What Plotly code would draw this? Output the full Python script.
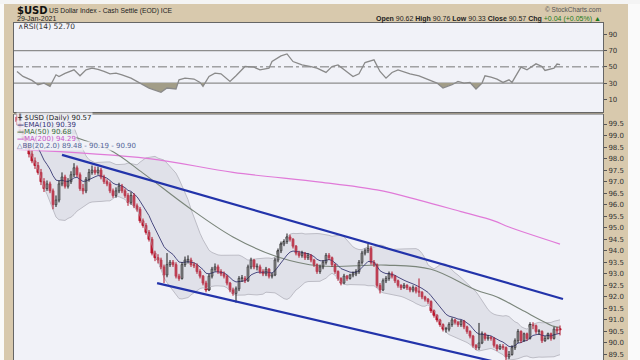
import plotly.graph_objects as go
import pandas as pd

# ---------------- data ----------------
closes = [
    99.60, 99.20, 98.90, 98.50, 98.20, 97.90, 97.70, 97.40, 97.00, 96.70,
    96.90, 96.60, 96.00, 96.20, 96.90, 97.20, 96.80, 97.00, 97.30, 97.60,
    97.30, 96.70, 96.60, 97.10, 97.40, 97.50, 97.40, 97.50, 97.20, 97.00,
    96.90, 96.60, 96.40, 96.60, 96.80, 96.60, 96.40, 96.10, 96.40, 95.95,
    95.80, 95.30, 95.10, 94.80, 94.50, 93.90, 93.70, 93.60, 93.30, 92.95,
    93.40, 93.50, 93.40, 92.90, 92.80, 93.40, 93.60, 93.60, 93.40, 93.35,
    93.10, 92.90, 92.60, 92.30, 92.90, 93.20, 93.30, 93.10, 93.00, 92.90,
    92.60, 92.30, 92.15, 92.35, 92.80, 92.80, 92.70, 93.30, 93.60, 93.30,
    93.30, 93.10, 93.00, 93.20, 92.90, 92.95, 93.60, 94.00, 94.30, 94.40,
    94.60, 94.50, 94.20, 93.90, 93.80, 93.90, 93.70, 93.80, 93.60, 93.40,
    93.10, 93.30, 93.50, 93.80, 93.70, 93.40, 93.10, 92.80, 92.60, 92.90,
    92.80, 92.95, 93.00, 93.10, 93.50, 93.90, 94.00, 94.10, 93.50, 93.40,
    92.50, 92.30, 92.70, 92.80, 93.00, 92.90, 92.70, 92.50, 92.40, 92.50,
    92.40, 92.30, 92.40, 92.25, 92.20, 92.00, 91.90, 91.80, 91.40, 91.20,
    91.00, 90.80, 90.60, 90.60, 90.80, 91.00, 90.90, 90.80, 90.95, 90.70,
    90.50, 90.30, 89.90, 89.80, 90.00, 90.40, 90.20, 90.25, 90.20, 89.90,
    89.75, 89.85, 89.80, 89.40, 89.50, 89.80, 90.10, 90.50, 90.10, 90.40,
    90.20, 90.80, 90.75, 90.50, 90.50, 90.10, 90.20, 90.40, 90.20, 90.60,
    90.53, 90.57]

opens = [
    99.80, 99.60, 99.20, 98.90, 98.50, 98.20, 97.90, 97.70, 97.40, 97.00,
    96.70, 96.90, 96.60, 96.00, 96.20, 96.90, 97.20, 96.80, 97.00, 97.30,
    97.60, 97.30, 96.70, 96.60, 97.10, 97.40, 97.50, 97.40, 97.50, 97.20,
    97.00, 96.90, 96.60, 96.40, 96.60, 96.80, 96.60, 96.40, 96.10, 96.40,
    95.95, 95.80, 95.30, 95.10, 94.80, 94.50, 93.90, 93.70, 93.60, 93.30,
    92.95, 93.40, 93.50, 93.40, 92.90, 92.80, 93.40, 93.60, 93.60, 93.40,
    93.35, 93.10, 92.90, 92.60, 92.30, 92.90, 93.20, 93.30, 93.10, 93.00,
    92.90, 92.60, 92.30, 92.15, 92.35, 92.80, 92.80, 92.70, 93.30, 93.60,
    93.30, 93.30, 93.10, 93.00, 93.20, 92.90, 92.95, 93.60, 94.00, 94.30,
    94.40, 94.60, 94.50, 94.20, 93.90, 93.80, 93.90, 93.70, 93.80, 93.60,
    93.40, 93.10, 93.30, 93.50, 93.80, 93.70, 93.40, 93.10, 92.80, 92.60,
    92.90, 92.80, 92.95, 93.00, 93.10, 93.50, 93.90, 94.00, 94.10, 93.50,
    93.40, 92.50, 92.30, 92.70, 92.80, 93.00, 92.90, 92.70, 92.50, 92.40,
    92.50, 92.40, 92.30, 92.40, 92.25, 92.20, 92.00, 91.90, 91.80, 91.40,
    91.20, 91.00, 90.80, 90.60, 90.60, 90.80, 91.00, 90.90, 90.80, 90.95,
    90.70, 90.50, 90.30, 89.90, 89.80, 90.00, 90.40, 90.20, 90.25, 90.20,
    89.90, 89.75, 89.85, 89.80, 89.40, 89.50, 89.80, 90.10, 90.50, 90.10,
    90.40, 90.20, 90.80, 90.75, 90.50, 90.50, 90.10, 90.20, 90.40, 90.20,
    90.60, 90.62]

highs = [
    99.95, 99.75, 99.35, 99.00, 98.65, 98.35, 98.05, 97.85, 97.55, 97.15,
    97.05, 97.00, 96.70, 96.40, 97.05, 97.40, 97.30, 97.15, 97.45, 97.80,
    97.70, 97.40, 96.90, 97.20, 97.55, 97.70, 97.65, 97.65, 97.60, 97.30,
    97.10, 97.00, 96.70, 96.75, 96.95, 96.90, 96.70, 96.50, 96.55, 96.50,
    96.05, 95.90, 95.40, 95.20, 94.90, 94.60, 94.00, 93.85, 93.70, 93.40,
    93.90, 93.60, 93.60, 93.50, 93.00, 93.50, 93.75, 93.80, 93.70, 93.50,
    93.45, 93.20, 92.95, 92.70, 93.00, 93.30, 93.45, 93.40, 93.20, 93.10,
    92.95, 92.65, 92.40, 92.45, 92.90, 92.95, 92.90, 93.40, 93.70, 93.65,
    93.45, 93.40, 93.20, 93.30, 93.25, 93.05, 93.70, 94.10, 94.40, 94.50,
    94.75, 94.70, 94.55, 94.25, 94.00, 94.00, 93.95, 93.90, 93.85, 93.65,
    93.45, 93.40, 93.60, 93.90, 93.90, 93.75, 93.45, 93.15, 92.85, 93.00,
    92.95, 93.00, 93.10, 93.20, 93.60, 94.00, 94.10, 94.30, 94.20, 93.60,
    93.45, 92.60, 92.80, 92.90, 93.10, 93.10, 92.95, 92.75, 92.55, 92.60,
    92.55, 92.45, 92.50, 92.45, 92.80, 92.25, 92.05, 91.95, 91.85, 91.45,
    91.25, 91.05, 90.85, 90.70, 90.90, 91.10, 91.05, 90.95, 91.00, 91.00,
    90.75, 90.55, 90.35, 89.95, 90.87, 90.50, 90.45, 90.35, 90.30, 90.25,
    89.95, 89.95, 89.95, 89.85, 89.65, 89.90, 90.20, 90.60, 90.55, 90.45,
    90.45, 90.90, 90.90, 90.80, 90.60, 90.55, 90.30, 90.45, 90.45, 90.70,
    90.70, 90.76]

lows = [
    99.45, 99.10, 98.80, 98.40, 98.05, 97.80, 97.55, 97.30, 96.85, 96.55,
    96.60, 96.50, 95.80, 95.90, 96.10, 96.80, 96.70, 96.70, 96.90, 97.20,
    97.20, 96.60, 96.45, 96.50, 97.00, 97.30, 97.30, 97.30, 97.10, 96.90,
    96.80, 96.50, 96.30, 96.30, 96.50, 96.50, 96.30, 95.95, 96.00, 95.85,
    95.70, 95.20, 95.00, 94.70, 94.40, 93.80, 93.55, 93.45, 93.20, 92.60,
    92.85, 93.30, 93.30, 92.80, 92.70, 92.75, 93.30, 93.45, 93.30, 93.25,
    93.00, 92.80, 92.50, 92.20, 92.25, 92.80, 93.10, 93.00, 92.90, 92.80,
    92.50, 92.20, 92.05, 91.75, 92.25, 92.65, 92.60, 92.65, 93.20, 93.20,
    93.15, 93.00, 92.90, 92.90, 92.80, 92.80, 92.90, 93.50, 93.90, 94.20,
    94.30, 94.40, 94.10, 93.80, 93.70, 93.70, 93.60, 93.60, 93.50, 93.30,
    93.00, 93.00, 93.20, 93.40, 93.60, 93.30, 93.00, 92.70, 92.50, 92.55,
    92.70, 92.75, 92.85, 92.90, 93.00, 93.40, 93.80, 93.90, 93.40, 93.30,
    92.40, 92.15, 92.25, 92.60, 92.70, 92.80, 92.60, 92.40, 92.30, 92.35,
    92.30, 92.20, 92.20, 92.15, 92.00, 91.90, 91.80, 91.70, 91.30, 91.10,
    90.90, 90.70, 90.50, 90.45, 90.50, 90.70, 90.80, 90.70, 90.70, 90.60,
    90.40, 90.20, 89.80, 89.70, 89.70, 89.95, 90.10, 90.10, 90.10, 89.80,
    89.65, 89.70, 89.70, 89.20, 89.30, 89.45, 89.70, 90.00, 90.00, 90.05,
    90.10, 90.15, 90.60, 90.40, 90.35, 90.00, 90.05, 90.15, 90.10, 90.15,
    90.40, 90.33]

# closes of the days just before the first candle (for indicator warm-up)
warmup_closes = [99.9, 100.0, 100.2, 100.0, 99.7, 99.0, 99.1, 99.5, 99.8, 100.2,
                 99.7, 99.7, 100.2, 100.0, 100.2, 100.4, 100.4, 99.6, 99.6]

ma50_day = [0, 8, 15, 31, 42, 57, 72, 87, 101, 123, 138, 153, 160, 168, 179, 181]
ma50_val = [100.3, 99.75, 99.15, 98.37, 97.37, 95.90, 94.60, 93.73, 93.34, 93.38,
            93.20, 92.30, 92.00, 91.45, 90.72, 90.68]

ma200_day = [0, 44, 72, 101, 120, 134, 148, 159, 164, 181]
ma200_val = [98.40, 98.00, 97.40, 96.98, 96.64, 96.20, 95.70, 95.30, 95.03, 94.29]

rsi_day = [0, 2, 5, 7, 9, 11, 13, 14, 16, 19, 21, 23, 25, 27, 29, 31, 33, 35, 38, 41,
           44, 48, 50, 53, 54, 56, 59, 61, 62, 64, 66, 68, 71, 73, 76, 79, 81, 84, 85, 88,
           90, 92, 95, 98, 100, 103, 105, 107, 110, 112, 114, 116, 119, 121, 123, 125, 127, 131, 134, 137,
           140, 142, 145, 147, 149, 151, 153, 155, 156, 158, 160, 162, 164, 165, 168, 170, 173, 175, 176, 179,
           180, 181]
rsi_val = [44.3, 38.2, 33.3, 28.0, 30.0, 25.9, 40.2, 38.0, 42.0, 46.3, 39.0, 46.3, 48.4, 47.0, 44.3, 41.4, 42.2, 40.2, 36.1, 30.0,
           23.9, 18.6, 23.9, 22.7, 34.0, 36.0, 35.0, 30.8, 25.9, 38.2, 42.2, 41.4, 32.0, 39.0, 50.4, 49.6, 46.3, 48.4, 56.5, 63.5,
           65.9, 56.5, 52.4, 50.4, 48.4, 43.1, 50.4, 52.4, 44.3, 38.0, 41.4, 55.3, 58.6, 44.3, 36.1, 43.1, 46.3, 41.4, 39.0, 34.9,
           30.0, 23.9, 28.0, 32.0, 30.0, 30.8, 22.7, 30.0, 39.0, 37.3, 34.9, 30.8, 34.0, 30.8, 49.6, 46.3, 53.7, 50.4, 45.5, 48.4,
           53.5, 52.7]

chan_upper_day = [15, 182]
chan_upper_val = [98.16, 91.91]
chan_lower_day = [46.7, 167.7]
chan_lower_val = [92.60, 88.93]

rsi_levels = [70, 50, 30]

# ---------------- geometry helpers ----------------
W, H = 640, 360
def px(x): return x / W
def py(y): return 1 - y / H

days = list(range(len(closes)))
n_warm = len(warmup_closes)
allc = pd.Series(warmup_closes + closes)
ema10 = allc.ewm(span=10, adjust=False).mean().iloc[n_warm:].tolist()
mid = allc.rolling(20).mean()
sd = allc.rolling(20).std(ddof=0)
bb_up = (mid + 2 * sd).iloc[n_warm:].tolist()
bb_lo = (mid - 2 * sd).iloc[n_warm:].tolist()

TAN = '#d8c9ad'
PANEL = '#f1f2f8'
UP_LINE, DN_LINE, DN_FILL = '#1a1a1a', '#b01228', '#dc2238'

fig = go.Figure()

# Bollinger band fill
fig.add_trace(go.Scatter(x=days, y=bb_lo, mode='lines', line=dict(color='#bdbdc6', width=1),
                         hoverinfo='skip', xaxis='x', yaxis='y'))
fig.add_trace(go.Scatter(x=days, y=bb_up, mode='lines', line=dict(color='#bdbdc6', width=1),
                         fill='tonexty', fillcolor='rgba(205,205,215,0.45)', hoverinfo='skip',
                         xaxis='x', yaxis='y'))
# moving averages
fig.add_trace(go.Scatter(x=ma200_day, y=ma200_val, mode='lines', line=dict(color='#e07ad8', width=1.2, shape='spline'),
                         hoverinfo='skip', xaxis='x', yaxis='y'))
fig.add_trace(go.Scatter(x=ma50_day, y=ma50_val, mode='lines', line=dict(color='#7a857a', width=1.1, shape='spline'),
                         hoverinfo='skip', xaxis='x', yaxis='y'))
fig.add_trace(go.Scatter(x=days, y=ema10, mode='lines', line=dict(color='#4a4a80', width=1),
                         hoverinfo='skip', xaxis='x', yaxis='y'))

# candles: wicks + bodies
for is_up in (True, False):
    wx, wy, bx, bbase, bh = [], [], [], [], []
    for i in days:
        up = closes[i] >= opens[i]
        if up != is_up:
            continue
        wx += [i, i, None]
        wy += [lows[i], highs[i], None]
        lo_b = min(opens[i], closes[i])
        bx.append(i)
        bbase.append(lo_b)
        bh.append(max(abs(closes[i] - opens[i]), 0.03))
    col = UP_LINE if is_up else DN_LINE
    fig.add_trace(go.Scatter(x=wx, y=wy, mode='lines', line=dict(color=col, width=1),
                             hoverinfo='skip', xaxis='x', yaxis='y'))
    fig.add_trace(go.Bar(x=bx, y=bh, base=bbase, width=0.72,
                         marker=dict(color='white' if is_up else DN_FILL,
                                     line=dict(color=col, width=0.8)),
                         hoverinfo='skip', xaxis='x', yaxis='y'))

# channel lines
fig.add_trace(go.Scatter(x=chan_upper_day, y=chan_upper_val, mode='lines',
                         line=dict(color='#2233aa', width=2.2), hoverinfo='skip', xaxis='x', yaxis='y'))
fig.add_trace(go.Scatter(x=chan_lower_day, y=chan_lower_val, mode='lines',
                         line=dict(color='#2233aa', width=2.2), hoverinfo='skip', xaxis='x', yaxis='y'))

# RSI fill below 30 (with crossing points)
fx, fy = [], []
for k in range(len(rsi_day)):
    if k > 0:
        a, b = rsi_val[k - 1], rsi_val[k]
        if (a - 30) * (b - 30) < 0:
            t = (30 - a) / (b - a)
            fx.append(rsi_day[k - 1] + t * (rsi_day[k] - rsi_day[k - 1]))
            fy.append(30)
    fx.append(rsi_day[k])
    fy.append(min(rsi_val[k], 30))
fig.add_trace(go.Scatter(x=fx, y=[30] * len(fx), mode='lines', line=dict(width=0),
                         hoverinfo='skip', xaxis='x2', yaxis='y2'))
fig.add_trace(go.Scatter(x=fx, y=fy, mode='lines', line=dict(width=0), fill='tonexty',
                         fillcolor='#a29d88', hoverinfo='skip', xaxis='x2', yaxis='y2'))
fig.add_trace(go.Scatter(x=rsi_day, y=rsi_val, mode='lines', line=dict(color='#8a8a8a', width=1.3),
                         hoverinfo='skip', xaxis='x2', yaxis='y2'))

x_dom = [px(14), px(603)]
x_rng = [(14 - 17) / 3, (603 - 17) / 3]
main_dom = [0, py(114)]
rsi_dom = [py(112), py(23)]

axis_common = dict(showgrid=False, zeroline=False)
fig.update_layout(
    width=W, height=H, margin=dict(l=0, r=0, t=0, b=0), barmode='overlay',
    paper_bgcolor=TAN, plot_bgcolor=PANEL, showlegend=False,
    font=dict(family='DejaVu Sans', size=7, color='#222'),
    xaxis=dict(domain=x_dom, anchor='y', range=x_rng, showticklabels=False, ticks='',
               showline=False, **axis_common),
    yaxis=dict(domain=main_dom, anchor='x', side='right', range=[89.262, 99.934], dtick=0.5, tick0=0,
               tickformat='.1f', ticks='outside', ticklen=3, tickcolor='#555', showline=True, mirror=True,
               linecolor='#666', linewidth=1, tickfont=dict(size=7, color='#333'), **axis_common),
    xaxis2=dict(domain=x_dom, anchor='y2', range=x_rng, matches='x', showticklabels=False, ticks='',
                showline=True, mirror=True, linecolor='#666', **axis_common),
    yaxis2=dict(domain=rsi_dom, anchor='x2', side='right', range=[-5.6, 104], tickvals=[10, 30, 50, 70, 90],
                ticks='outside', ticklen=3, tickcolor='#555', showline=True, mirror=True, linecolor='#666',
                tickfont=dict(size=7, color='#333'), **axis_common),
)

shapes = [
    # white page edges around the tan frame
    dict(type='rect', xref='paper', yref='paper', x0=0, x1=px(4), y0=0, y1=1,
         fillcolor='#fafafa', line=dict(width=0), layer='below'),
    dict(type='rect', xref='paper', yref='paper', x0=px(628), x1=1, y0=0, y1=1,
         fillcolor='#fafafa', line=dict(width=0), layer='below'),
    dict(type='rect', xref='paper', yref='paper', x0=0, x1=1, y0=py(4), y1=1,
         fillcolor='#f4f4f4', line=dict(width=0), layer='below'),
    dict(type='line', xref='x domain', yref='y domain', x0=0, x1=1, y0=1, y1=1,
         line=dict(color='#666', width=1)),
]
for lv in rsi_levels:
    shapes.append(dict(type='line', xref='x2 domain', yref='y2', x0=0, x1=1, y0=lv, y1=lv,
                       line=dict(color='#777' if lv == 50 else '#8d8d8d', width=1 if lv == 50 else 1.3,
                                 dash='dashdot' if lv == 50 else 'solid'), layer='below'))
fig.update_layout(shapes=shapes)

ann = []
def text(x, y, s, size=7, color='#222', xanchor='left', family='DejaVu Sans', bg=None):
    d = dict(xref='paper', yref='paper', x=px(x), y=py(y), text=s, showarrow=False, xanchor=xanchor,
             yanchor='middle', font=dict(size=size, color=color, family=family))
    if bg:
        d['bgcolor'] = bg
        d['borderpad'] = 0
    ann.append(d)

text(15, 10, '<b>$USD</b>', size=10, color='#111')
text(47, 10.5, 'US Dollar Index - Cash Settle (EOD) ICE', size=6.8, color='#222', family='Liberation Sans')
text(15, 18, '29-Jan-2021', size=7, color='#222', family='Liberation Sans')
text(603, 9, '© StockCharts.com', size=6.5, color='#555', xanchor='right', family='Liberation Sans')
text(603, 18.5, '<b>Open</b> 90.62 <b>High</b> 90.76 <b>Low</b> 90.33 <b>Close</b> 90.57 '
     '<b>Chg</b> <span style="color:#1a7a1a">+0.04 (+0.05%) ▲</span>',
     size=7, color='#222', xanchor='right', family='Liberation Sans')
text(16, 27, '∧RSI(14) 52.70', size=7.5, color='#333')

legend_bg = 'rgba(241,242,248,0.8)'
text(16, 117.5, '╫ $USD (Daily) 90.57', size=7, color='#222', bg=legend_bg)
text(16, 124.5, '<b>—</b>EMA(10) 90.39', size=7, color='#333377', bg=legend_bg)
text(16, 131.5, '<b>—</b>MA(50) 90.68', size=7, color='#3d6b3d', bg=legend_bg)
text(16, 138.5, '<b>—</b>MA(200) 94.29', size=7, color='#cc55cc', bg=legend_bg)
text(16, 145.5, '△BB(20,2.0) 89.48 - 90.19 - 90.90', size=7, color='#556699', bg=legend_bg)
fig.update_layout(annotations=ann)

fig.write_html('out.html')
